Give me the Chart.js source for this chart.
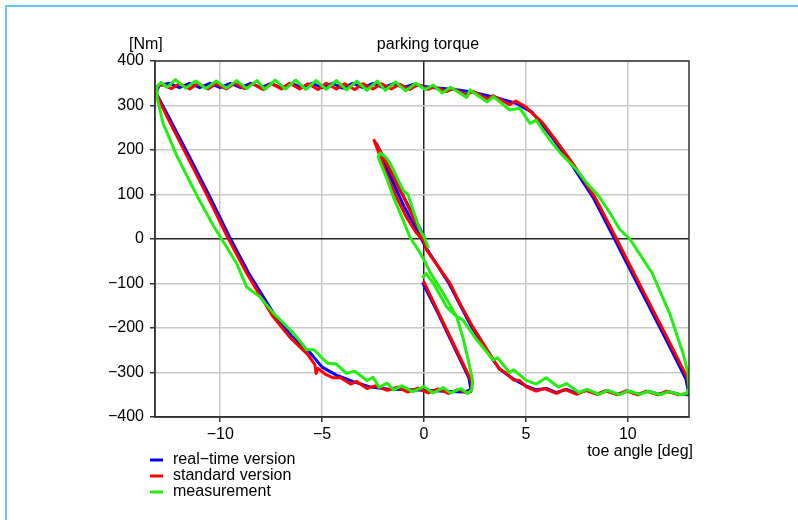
<!DOCTYPE html>
<html>
<head>
<meta charset="utf-8">
<script src="https://cdn.jsdelivr.net/npm/chart.js@4.4.0/dist/chart.umd.min.js"></script>
<style>
html,body{margin:0;padding:0;background:#fff;}
#wrap{position:relative;width:798px;height:520px;overflow:hidden;}
#frame{position:absolute;left:5px;top:5px;right:0;bottom:0;border-top:2px solid #63c6f1;border-left:2px solid #63c6f1;}
#c{position:absolute;left:0;top:0;}
</style>
</head>
<body>
<div id="wrap"><div id="frame"></div><canvas id="c" width="798" height="520"></canvas></div>
<script>
const seriesNames=["real\u2212time version","standard version","measurement"];
const seriesColors=["#0000ff","#ff0000","#22ee11"];
const xTicks=[-10,-5,0,5,10];
const yTicks=[-400,-300,-200,-100,0,100,200,300,400];

// real-time version
const rtAngle=[0.0,-1.0,-2.0,-2.35,-1.9,-1.0,-0.3,0.1,1.2,2.3,3.0,3.7,4.4,5.0,5.5,6.0,6.5,7.0,7.5,8.0,8.5,9.0,9.5,10.0,10.5,11.0,11.5,12.0,12.5,13.0,
  12.85,11.9,10.8,9.9,9.35,8.3,7.3,6.3,5.3,4.5,3.5,2.5,1.5,0.5,0,
  -0.5,-1.0,-1.5,-2.0,-2.5,-3.0,-3.5,-4.0,-4.5,-5.0,-5.5,-6.0,-6.5,-7.0,-7.5,-8.0,-8.5,-9.0,-9.5,-10.0,-10.5,-11.0,-11.5,-12.0,-12.5,-13.0,
  -13.15,-12.5,-11.5,-10.5,-9.55,-8.6,-7.3,-6.5,-5.6,-5.0,-4.3,-3.5,-2.7,-1.8,-1.0,0,1.0,2.0,2.3,2.2,1.5,0.7,-0.05];
const rtTorque=[5,95,185,215,165,75,15,-20,-98,-195,-247,-292,-315,-330,-339,-336,-345,-338,-347,-340,-348,-341,-349,-342,-349,-342,-349,-343,-349,-350,
  -315,-228,-130,-50,0,93,163,228,285,305,318,329,336,340,343,
  348,340,349,340,350,340,350,339,350,340,350,340,350,339,350,340,350,340,350,340,350,340,350,340,350,345,
  328,272,184,94,5,-77,-173,-218,-255,-288,-306,-320,-332,-337,-338,-340,-342,-344,-338,-312,-245,-168,-100];

// standard version
const stdAngle=[0.0,-0.5,-1.0,-1.5,-2.0,-2.45,-2.15,-1.8,-1.35,-0.9,-0.4,0.0,
  0.13,0.7,1.27,1.8,2.4,3.1,3.7,4.0,4.4,4.7,5.0,
  5.5,5.9,6.5,6.9,7.5,7.9,8.5,8.9,9.5,9.9,10.5,10.9,11.5,11.9,12.5,12.95,
  13.0,12.9,12.0,10.9,10.0,9.45,8.4,7.4,6.4,5.8,5.3,5.0,4.5,4.2,3.4,3.1,2.4,2.1,1.4,1.1,0.5,0.2,
  -0.3,-0.7,-1.2,-1.6,-2.1,-2.5,-3.0,-3.4,-3.9,-4.3,-4.8,-5.2,-5.7,-6.1,-6.6,-7.0,-7.5,-7.9,-8.4,-8.8,-9.3,-9.7,-10.2,-10.6,-11.1,-11.5,-12.0,-12.4,-12.9,-13.15,-13.2,
  -12.6,-11.6,-10.6,-9.65,-8.7,-8.0,-7.4,-6.6,-5.7,-5.35,-5.3,-5.2,-4.8,-4.45,-4.1,-3.6,-3.3,-2.8,-2.4,-1.8,
  -1.3,-0.8,-0.3,0.2,0.7,1.2,1.7,2.1,2.3,2.35,2.25,1.6,0.8,0];
const stdTorque=[2,45,94,140,185,222,185,140,94,52,15,-5,
  -25,-62,-99,-148,-198,-249,-292,-300,-317,-318,-332,
  -342,-336,-347,-338,-349,-340,-349,-341,-350,-341,-350,-342,-350,-342,-350,-347,
  -335,-310,-228,-130,-50,0,93,163,226,262,283,297,310,302,322,315,332,324,338,331,342,336,
  347,336,348,337,349,337,349,336,349,337,350,336,349,337,350,337,349,336,349,338,350,337,349,337,349,337,349,338,348,342,332,
  274,184,94,5,-77,-130,-175,-220,-260,-283,-302,-291,-305,-312,-312,-326,-320,-336,-330,-340,
  -333,-344,-335,-346,-337,-347,-338,-346,-343,-325,-312,-250,-174,-97];

// measurement
const measAngle=[-0.05,0.1,0.45,1.1,1.5,1.9,2.6,3.4,3.6,4.2,4.4,5.0,5.5,6.0,6.6,7.0,7.6,8.0,8.6,9.0,9.6,10.0,10.6,11.0,11.6,12.0,12.6,12.9,
  13.0,12.95,12.7,12.05,11.6,11.2,10.6,10.1,9.6,9.1,8.6,8.0,7.5,6.7,6.3,5.9,5.5,5.2,4.7,4.2,3.4,3.1,2.25,2.1,1.3,0.9,0.45,0.05,
  -0.4,-0.9,-1.4,-1.9,-2.3,-2.8,-3.3,-3.8,-4.3,-4.8,-5.3,-5.8,-6.3,-6.8,-7.3,-7.8,-8.2,-8.7,-9.2,-9.7,-10.2,-10.7,-11.2,-11.7,-12.2,-12.6,-12.9,-13.1,
  -13.1,-12.8,-12.1,-11.1,-10.3,-10.0,-9.2,-8.7,-8.05,-7.4,-7.05,-6.4,-5.75,-5.4,-4.75,-4.3,-3.8,-3.4,-2.8,-2.5,-2.2,-1.8,-1.5,-1.1,-0.55,0,0.45,0.95,1.3,1.8,2.15,2.35,
  2.38,2.17,1.9,1.6,0.93,0.3,0,-0.2,-0.7,-1.03,-1.5,-1.8,-2.25,-2.16,-1.9,-1.67,-1.03,-0.78,-0.54,-0.2,0,0.2];
const measTorque=[-85,-78,-99,-152,-170,-182,-227,-272,-267,-300,-294,-317,-326,-312,-333,-325,-345,-338,-349,-340,-350,-341,-349,-342,-350,-343,-350,-347,
  -335,-300,-256,-167,-120,-77,-35,0,22,60,95,125,155,193,215,240,267,260,294,290,320,308,335,318,341,328,346,336,
  350,333,353,334,355,334,355,335,356,336,356,336,357,337,357,336,356,338,356,339,355,338,355,339,358,341,352,342,
  318,260,184,94,27,5,-54,-108,-130,-166,-182,-212,-249,-249,-279,-281,-302,-297,-318,-311,-333,-324,-339,-330,-343,-332,-346,-334,-346,-336,-347,-338,
  -317,-272,-220,-175,-121,-75,-47,-31,5,43,94,133,184,193,185,171,110,99,65,20,5,-18];

const FONT="'Liberation Sans', Arial, Helvetica, sans-serif";
const pts=(xs,ys)=>xs.map((x,i)=>({x:x,y:ys[i]}));
const fmt=v=>String(v).replace("-","\u2212");

const decor={
  id:"decor",
  afterDatasetsDraw(chart){
    const {ctx,chartArea:a}=chart;
    ctx.save();
    ctx.strokeStyle="#333"; ctx.lineWidth=1.5;
    ctx.strokeRect(a.left,a.top,a.right-a.left,a.bottom-a.top);
    ctx.restore();
  },
  afterDraw(chart){
    const {ctx}=chart;
    ctx.save();
    ctx.fillStyle="#000"; ctx.font="16px "+FONT; ctx.textBaseline="middle";
    ctx.textAlign="center"; ctx.fillText("parking torque",428,45);
    ctx.textAlign="left"; ctx.fillText("[Nm]",129,45);
    ctx.textAlign="right"; ctx.fillText("toe angle [deg]",693,452);
    // legend
    ctx.textAlign="left";
    seriesNames.forEach((n,i)=>{
      const y=460+i*16;
      ctx.strokeStyle=seriesColors[i]; ctx.lineWidth=3;
      ctx.beginPath(); ctx.moveTo(150,y); ctx.lineTo(163,y); ctx.stroke();
      ctx.fillText(n,173,y);
    });
    ctx.restore();
  }
};

const mk=(label,data,color,order)=>({label:label,data:data,borderColor:color,backgroundColor:color,
  showLine:true,pointRadius:0,borderWidth:3,tension:0,borderJoinStyle:"round",borderCapStyle:"round",order:order});

new Chart(document.getElementById("c"),{
  type:"scatter",
  data:{datasets:[
    mk(seriesNames[0],pts(rtAngle,rtTorque),seriesColors[0],3),
    mk(seriesNames[1],pts(stdAngle,stdTorque),seriesColors[1],2),
    mk(seriesNames[2],pts(measAngle,measTorque),seriesColors[2],1)
  ]},
  options:{
    responsive:false,animation:false,
    layout:{padding:{left:95,right:109,top:61,bottom:63}},
    plugins:{legend:{display:false},tooltip:{enabled:false},title:{display:false}},
    scales:{
      x:{type:"linear",min:-13.2,max:13,
        afterBuildTicks:s=>{s.ticks=xTicks.map(v=>({value:v}));},
        afterFit:s=>{s.height=40;},
        ticks:{includeBounds:false,color:"#000",font:{family:FONT,size:16},padding:3,maxRotation:0,callback:fmt},
        grid:{color:c=>c.tick&&c.tick.value===0?"#222":"#c8c8c8",lineWidth:1.5,tickLength:5,tickColor:"#333"},
        border:{display:true,color:"#333",width:1.5}},
      y:{type:"linear",min:-400,max:400,
        afterBuildTicks:s=>{s.ticks=yTicks.map(v=>({value:v}));},
        afterFit:s=>{s.width=60;},
        ticks:{color:"#000",font:{family:FONT,size:16},padding:6,callback:fmt},
        grid:{color:c=>c.tick&&c.tick.value===0?"#222":"#c8c8c8",lineWidth:1.5,tickLength:5,tickColor:"#333"},
        border:{display:true,color:"#333",width:1.5}}
    }
  },
  plugins:[decor]
});
</script>
</body>
</html>
